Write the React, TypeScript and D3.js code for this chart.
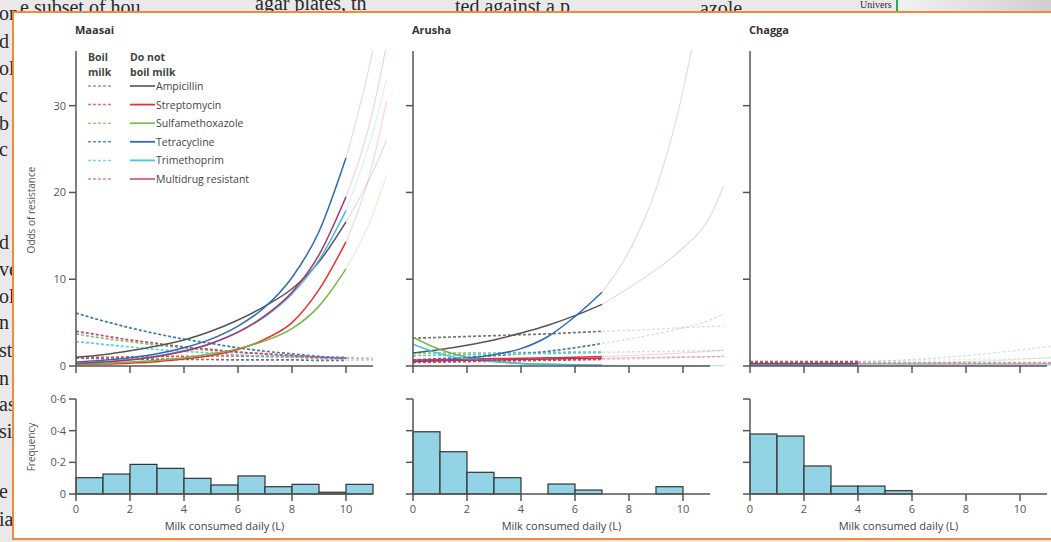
import React from 'react';
import * as d3 from 'd3';

// populations shown in the three panels
const groups = ['Maasai', 'Arusha', 'Chagga'];
// largest daily milk volume observed in each group (solid part of a curve)
const observedMax = [10, 7, 4];

const drugs = ['Ampicillin', 'Streptomycin', 'Sulfamethoxazole', 'Tetracycline', 'Trimethoprim', 'Multidrug resistant'];

// litres of milk per day at which the odds are read
const milkGrid = [0, 1, 2, 3, 4, 5, 6, 7, 8, 9, 10, 11, 11.5];

// odds of resistance, one row per drug, do not boil milk
const maasaiNoBoil = [
  [1.0, 1.3, 1.75, 2.3, 3.0, 4.0, 5.3, 6.9, 8.9, 12.0, 16.6, 22.4, 26.0],
  [0.15, 0.22, 0.33, 0.5, 0.8, 1.2, 1.9, 3.1, 5.0, 8.8, 14.3, 23.5, 30.5],
  [0.2, 0.3, 0.45, 0.65, 0.95, 1.4, 2.0, 2.9, 4.3, 6.9, 11.2, 17.5, 22.0],
  [0.45, 0.65, 0.95, 1.4, 2.1, 3.1, 4.6, 6.8, 10.2, 15.5, 24.0, 36.5, 45.0],
  [0.35, 0.5, 0.75, 1.15, 1.75, 2.6, 3.9, 5.7, 8.3, 12.2, 17.9, 27.0, 33.0],
  [0.3, 0.45, 0.7, 1.1, 1.7, 2.6, 3.9, 5.8, 8.5, 12.8, 19.5, 29.5, 37.0],
];
// boil milk
const maasaiBoil = [
  [0.9, 0.85, 0.8, 0.8, 0.75, 0.75, 0.7, 0.7, 0.7, 0.65, 0.65, 0.65, null],
  [1.0, 1.0, 1.05, 1.1, 1.1, 1.15, 1.15, 1.1, 1.1, 1.0, 1.0, 0.95, null],
  [3.7, 3.2, 2.8, 2.4, 2.1, 1.8, 1.6, 1.4, 1.2, 1.0, 0.9, 0.8, null],
  [6.1, 5.2, 4.4, 3.7, 3.1, 2.6, 2.1, 1.7, 1.4, 1.1, 0.9, 0.8, null],
  [2.8, 2.5, 2.2, 1.9, 1.7, 1.5, 1.3, 1.1, 1.0, 0.85, 0.75, 0.7, null],
  [4.0, 3.5, 3.0, 2.6, 2.2, 1.9, 1.6, 1.4, 1.2, 1.0, 0.9, 0.8, null],
];

const arushaNoBoil = [
  [1.5, 1.9, 2.4, 3.0, 3.8, 4.7, 5.8, 7.1, 9.0, 11.1, 13.6, 17.2, 20.7],
  [0.7, 0.75, 0.8, 0.85, 0.9, 0.95, 1.0, 1.1, 1.2, 1.35, 1.5, 1.7, 1.8],
  [3.3, 1.9, 1.0, 0.55, 0.3, 0.2, 0.15, 0.1, 0.08, 0.06, 0.05, 0.04, 0.04],
  [0.5, 0.65, 0.9, 1.3, 2.0, 3.4, 5.7, 8.5, 13.2, 20.4, 31.7, 49.0, 61.0],
  [2.5, 1.4, 0.8, 0.5, 0.3, 0.2, 0.12, 0.08, 0.06, 0.05, 0.04, 0.03, 0.03],
  [0.55, 0.6, 0.65, 0.7, 0.75, 0.8, 0.85, 0.9, 0.95, 1.0, 1.05, 1.1, 1.15],
];
const arushaBoil = [
  [3.2, 3.3, 3.4, 3.5, 3.6, 3.7, 3.85, 4.0, 4.1, 4.25, 4.4, 4.55, 4.6],
  [0.4, 0.45, 0.5, 0.55, 0.6, 0.65, 0.7, 0.75, 0.8, 0.9, 1.0, 1.05, 1.1],
  [1.5, 1.5, 1.5, 1.5, 1.55, 1.55, 1.6, 1.6, 1.65, 1.7, 1.75, 1.8, 1.8],
  [0.7, 0.85, 1.0, 1.2, 1.4, 1.7, 2.1, 2.6, 3.1, 3.7, 4.4, 5.3, 6.0],
  [1.2, 1.25, 1.3, 1.35, 1.4, 1.45, 1.5, 1.55, 1.6, 1.65, 1.7, 1.75, 1.8],
  [0.5, 0.55, 0.6, 0.65, 0.7, 0.75, 0.8, 0.85, 0.9, 0.95, 1.0, 1.05, 1.1],
];

const chaggaNoBoil = [
  [0.25, 0.25, 0.25, 0.25, 0.25, 0.25, 0.25, 0.25, 0.25, 0.25, 0.25, 0.25, 0.25],
  [0.2, 0.2, 0.2, 0.2, 0.2, 0.2, 0.2, 0.2, 0.2, 0.2, 0.2, 0.2, 0.2],
  [0.15, 0.17, 0.19, 0.21, 0.24, 0.28, 0.33, 0.4, 0.5, 0.62, 0.77, 0.95, 1.1],
  [0.1, 0.1, 0.1, 0.1, 0.1, 0.1, 0.1, 0.1, 0.1, 0.1, 0.1, 0.1, 0.1],
  [0.1, 0.1, 0.1, 0.1, 0.1, 0.1, 0.1, 0.1, 0.1, 0.1, 0.1, 0.1, 0.1],
  [0.3, 0.3, 0.3, 0.3, 0.3, 0.3, 0.3, 0.3, 0.3, 0.3, 0.3, 0.3, 0.3],
];
const chaggaBoil = [
  [0.35, 0.35, 0.35, 0.35, 0.35, 0.35, 0.35, 0.35, 0.35, 0.35, 0.35, 0.35, 0.35],
  [0.4, 0.4, 0.4, 0.4, 0.4, 0.4, 0.4, 0.4, 0.4, 0.4, 0.4, 0.4, 0.4],
  [0.55, 0.55, 0.55, 0.55, 0.55, 0.6, 0.65, 0.7, 0.75, 0.8, 0.85, 0.9, 0.95],
  [0.3, 0.35, 0.4, 0.45, 0.5, 0.6, 0.75, 0.95, 1.2, 1.5, 1.85, 2.2, 2.4],
  [0.3, 0.3, 0.3, 0.3, 0.3, 0.3, 0.3, 0.3, 0.3, 0.3, 0.3, 0.3, 0.3],
  [0.45, 0.45, 0.45, 0.45, 0.45, 0.45, 0.45, 0.45, 0.45, 0.45, 0.45, 0.45, 0.45],
];

const noBoil = [maasaiNoBoil, arushaNoBoil, chaggaNoBoil];
const boil = [maasaiBoil, arushaBoil, chaggaBoil];

// histogram of milk consumed, bins of 1 L from 0 to 11
const histEdges = [0, 1, 2, 3, 4, 5, 6, 7, 8, 9, 10, 11];
const maasaiFreq = [0.103, 0.126, 0.187, 0.162, 0.099, 0.057, 0.114, 0.046, 0.061, 0.011, 0.061];
const arushaFreq = [0.393, 0.267, 0.137, 0.103, 0, 0.063, 0.025, 0, 0, 0.046, 0];
const chaggaFreq = [0.379, 0.366, 0.177, 0.05, 0.05, 0.021, 0, 0, 0, 0, 0];
const freqs = [maasaiFreq, arushaFreq, chaggaFreq];

const xTicks = [0, 2, 4, 6, 8, 10];
const oddsTicks = [0, 10, 20, 30];
const freqTicks = [0, 0.2, 0.4, 0.6];
const freqTickLabels = ['0', '0·2', '0·4', '0·6'];

// bits of the printed page that show round the figure
const pageTop = ['e subset of hou', 'agar plates, th', 'ted against a p', 'azole.'];
const pageLeft = ['on', 'd', 'ol', 'c', 'b', 'c', 'd', 've', 'ol', 'n', 'st', 'n', 'as', 'si', 'e', 'ia'];

const solidColors = ['#555555', '#e8322e', '#74b744', '#2b6cb5', '#3ebfe2', '#b3306a'];
const dashColors = ['#777777', '#ee4a44', '#86c25a', '#3a78c0', '#5ccbea', '#c0487a'];
const legendSolid = ['#666666', '#e8322e', '#7cbf4c', '#2e6db5', '#4cc3e6', '#d06288'];
const legendDash = ['#999999', '#f07070', '#9ccf7a', '#5a8fcc', '#7fd4ee', '#e48aa6'];

const font = '"Open Sans", "Noto Sans", sans-serif';
const axisColor = '#555';
const panelLeft = [76, 413, 750];
const panelWidth = 297;

export default function App() {
  const yOdds = d3.scaleLinear().domain([0, 36.3]).range([366, 51]);
  const yFreq = d3.scaleLinear().domain([0, 0.6]).range([494, 399]);
  const topX = [20, 255, 455, 700];
  const topY = [14, 10, 13, 15];
  const leftY = [20, 48, 75, 102, 130, 156, 249, 276, 303, 329, 357, 385, 411, 438, 498, 526];

  return (
    <svg width={1051} height={542} style={{ position: 'fixed', left: 0, top: 0 }} fontFamily={font}>
      <defs>
        <linearGradient id="topShade" x1="0" x2="1" y1="0" y2="0">
          <stop offset="0%" stopColor="#f1f1f1" />
          <stop offset="100%" stopColor="#cfcfcf" />
        </linearGradient>
        {groups.map((g, gi) => (
          <clipPath id={`clip-${gi}`} key={g}>
            <rect x={panelLeft[gi]} y={50} width={panelWidth + 20} height={318} />
          </clipPath>
        ))}
      </defs>

      {/* page behind the figure */}
      <rect x={0} y={0} width={1051} height={542} fill="#e9e9e9" />
      <rect x={900} y={0} width={151} height={12} fill="url(#topShade)" />
      <line x1={897} x2={897} y1={0} y2={12} stroke="#2fa84f" strokeWidth={2} />
      <g fontFamily="'Liberation Serif', 'DejaVu Serif', serif" fontSize={20} fill="#2a2a2a">
        {pageTop.map((t, i) => (
          <text key={t} x={topX[i]} y={topY[i]}>{t}</text>
        ))}
        <text x={860} y={8} fontSize={10}>Univers</text>
        {pageLeft.map((t, i) => (
          <text key={`${t}${i}`} x={-1} y={leftY[i]}>{t}</text>
        ))}
      </g>
      <rect x={13} y={12} width={1045} height={527} fill="#ffffff" stroke="#f08a3c" strokeWidth={2} />

      {groups.map((g, gi) => {
        const x0 = panelLeft[gi];
        const x = d3.scaleLinear().domain([0, 11]).range([x0, x0 + panelWidth]);
        const maxObs = observedMax[gi];
        const line = d3
          .line<[number, number | null]>()
          .defined((d) => d[1] !== null)
          .x((d) => x(d[0]))
          .y((d) => yOdds(d[1] as number))
          .curve(d3.curveMonotoneX);
        const pts = (vals: (number | null)[]) => milkGrid.map((m, i) => [m, vals[i]] as [number, number | null]);
        const inRange = (p: [number, number | null][]) => p.filter((d) => d[0] <= maxObs);
        const beyond = (p: [number, number | null][]) => p.filter((d) => d[0] >= maxObs);

        return (
          <g key={g}>
            <text x={x0 - 1} y={34} fontSize={11} fontWeight="bold" fill="#333">{g}</text>

            {/* odds of resistance curves */}
            <g clipPath={`url(#clip-${gi})`} fill="none">
              {boil[gi].map((vals, di) => (
                <path key={`bx${di}`} d={line(beyond(pts(vals))) || ''} stroke={dashColors[di]} strokeOpacity={0.25} strokeWidth={1.2} strokeDasharray="3,2" />
              ))}
              {noBoil[gi].map((vals, di) => (
                <path key={`nx${di}`} d={line(beyond(pts(vals))) || ''} stroke={solidColors[di]} strokeOpacity={0.22} strokeWidth={1.1} />
              ))}
              {boil[gi].map((vals, di) => (
                <path key={`b${di}`} d={line(inRange(pts(vals))) || ''} stroke={dashColors[di]} strokeWidth={1.7} strokeDasharray="3,2" />
              ))}
              {noBoil[gi].map((vals, di) => (
                <path key={`n${di}`} d={line(inRange(pts(vals))) || ''} stroke={solidColors[di]} strokeWidth={1.5} />
              ))}
            </g>

            {/* odds axes */}
            <g stroke={axisColor} strokeWidth={1.5}>
              <line x1={x0} x2={x0} y1={51} y2={366} />
              <line x1={x0} x2={x(11)} y1={366} y2={366} />
              {oddsTicks.map((t) => (
                <line key={`ot${t}`} x1={x0 - 7} x2={x0} y1={yOdds(t)} y2={yOdds(t)} />
              ))}
              {xTicks.map((t) => (
                <line key={`xt${t}`} x1={x(t)} x2={x(t)} y1={366} y2={373} />
              ))}
            </g>
            {gi === 0 &&
              oddsTicks.map((t) => (
                <text key={`ol${t}`} x={x0 - 10} y={yOdds(t) + 4} fontSize={11} textAnchor="end" fill="#555">{t}</text>
              ))}

            {/* histogram */}
            <g>
              {freqs[gi].map((f, bi) =>
                f > 0 ? (
                  <rect
                    key={`h${bi}`}
                    x={x(histEdges[bi])}
                    y={yFreq(f)}
                    width={x(histEdges[bi + 1]) - x(histEdges[bi])}
                    height={yFreq(0) - yFreq(f)}
                    fill="#93d3e6"
                    stroke="#333"
                    strokeWidth={1.2}
                  />
                ) : null
              )}
            </g>
            <g stroke={axisColor} strokeWidth={1.5}>
              <line x1={x0} x2={x0} y1={yFreq(0.6)} y2={yFreq(0)} />
              <line x1={x0} x2={x(11)} y1={yFreq(0)} y2={yFreq(0)} />
              {freqTicks.map((t) => (
                <line key={`ft${t}`} x1={x0 - 7} x2={x0} y1={yFreq(t)} y2={yFreq(t)} />
              ))}
              {xTicks.map((t) => (
                <line key={`hx${t}`} x1={x(t)} x2={x(t)} y1={yFreq(0)} y2={yFreq(0) + 7} />
              ))}
            </g>
            {gi === 0 &&
              freqTicks.map((t, i) => (
                <text key={`fl${t}`} x={x0 - 10} y={yFreq(t) + 4} fontSize={11} textAnchor="end" fill="#555">{freqTickLabels[i]}</text>
              ))}
            {xTicks.map((t) => (
              <text key={`xl${t}`} x={x(t)} y={513} fontSize={11} textAnchor="middle" fill="#555">{t}</text>
            ))}
            <text x={x(5.5)} y={530} fontSize={11} textAnchor="middle" fill="#444">Milk consumed daily (L)</text>
          </g>
        );
      })}

      <text transform="translate(35,210) rotate(-90)" fontSize={10} textAnchor="middle" fill="#555">Odds of resistance</text>
      <text transform="translate(35,447) rotate(-90)" fontSize={10} textAnchor="middle" fill="#555">Frequency</text>

      {/* legend */}
      <g fontSize={10.5} fill="#444">
        <text x={88} y={61} fontWeight="bold">Boil</text>
        <text x={88} y={76} fontWeight="bold">milk</text>
        <text x={130} y={61} fontWeight="bold">Do not</text>
        <text x={130} y={76} fontWeight="bold">boil milk</text>
        {drugs.map((d, i) => {
          const ly = 86 + i * 18.6;
          return (
            <g key={d}>
              <line x1={88} x2={113} y1={ly} y2={ly} stroke={legendDash[i]} strokeWidth={1.5} strokeDasharray="3,2" />
              <line x1={130} x2={155} y1={ly} y2={ly} stroke={legendSolid[i]} strokeWidth={1.8} />
              <text x={156} y={ly + 4}>{d}</text>
            </g>
          );
        })}
      </g>
    </svg>
  );
}
